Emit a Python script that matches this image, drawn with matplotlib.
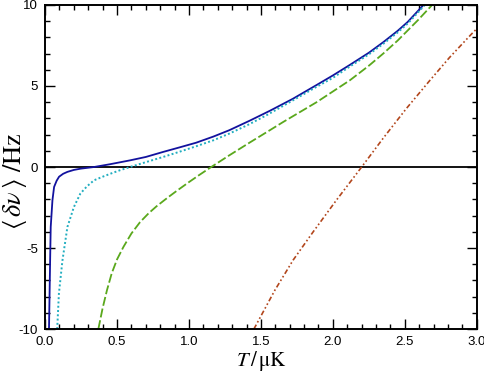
import matplotlib
matplotlib.use('Agg')
import matplotlib.pyplot as plt
from matplotlib.ticker import MultipleLocator

# values (T in uK, shift in Hz)
t_blue = [0.027, 0.035, 0.039, 0.051, 0.0625, 0.08, 0.097, 0.125, 0.155, 0.2, 0.248, 0.34,
          0.45, 0.59, 0.7, 0.82, 0.93, 1.05, 1.17, 1.28, 1.42, 1.56, 1.72, 1.887, 2.0,
          2.118, 2.25, 2.35, 2.45, 2.52, 2.63]
y_blue = [-10.0, -5.7, -3.7, -2.05, -1.23, -0.85, -0.6, -0.42, -0.3, -0.18, -0.1, 0.0,
          0.17, 0.41, 0.62, 0.93, 1.2, 1.5, 1.88, 2.27, 2.85, 3.46, 4.2, 5.06, 5.65,
          6.3, 7.05, 7.7, 8.4, 8.95, 10.0]

t_cyan = [0.084, 0.096, 0.12, 0.155, 0.2, 0.245, 0.29, 0.34, 0.40, 0.455, 0.52, 0.59,
          0.7, 0.82, 0.93, 1.05, 1.17, 1.28, 1.41, 1.54, 1.72, 1.887, 2.0, 2.118, 2.25,
          2.35, 2.45, 2.52, 2.64]
y_cyan = [-10.0, -7.8, -5.8, -3.7, -2.47, -1.64, -1.2, -0.82, -0.6, -0.41, -0.2, 0.0,
          0.3, 0.62, 0.93, 1.28, 1.65, 2.06, 2.6, 3.2, 4.1, 4.95, 5.5, 6.2, 6.95,
          7.6, 8.3, 8.85, 10.0]

t_green = [0.37, 0.40, 0.43, 0.463, 0.50, 0.545, 0.60, 0.66, 0.72, 0.775, 0.85, 0.915,
           1.0, 1.07, 1.146, 1.28, 1.424, 1.56, 1.655, 1.887, 2.118, 2.25, 2.35, 2.45,
           2.59, 2.69]
y_green = [-10.0, -8.7, -7.6, -6.56, -5.7, -4.92, -4.1, -3.4, -2.85, -2.42, -1.9, -1.47,
           -0.93, -0.5, -0.05, 0.72, 1.52, 2.26, 2.78, 4.0, 5.35, 6.25, 7.0, 7.8,
           9.05, 10.0]

t_red = [1.451, 1.597, 1.724, 1.863, 2.025, 2.2, 2.35, 2.51, 2.67, 2.81, 2.963, 3.0]
y_red = [-10.0, -7.6, -5.74, -4.0, -2.04, 0.0, 1.78, 3.6, 5.3, 6.75, 8.2, 8.53]

plt.rcParams['mathtext.fontset'] = 'stix'
plt.rcParams['font.family'] = 'Liberation Sans'
plt.rcParams['axes.unicode_minus'] = False

fig = plt.figure(figsize=(4.85, 3.8), dpi=100)
ax = fig.add_axes([0.093, 0.134, 0.890, 0.853])

ax.axhline(0, color='black', lw=1.3, zorder=1)
ax.plot(t_blue, y_blue, color='#12129e', lw=1.3, ls='-')
ax.plot(t_cyan, y_cyan, color='#22aec0', lw=1.4, ls=(0, (1, 1.2)))
ax.plot(t_green, y_green, color='#5aa81c', lw=1.3, ls=(0, (5, 1.6)))
ax.plot(t_red, y_red, color='#b2461c', lw=1.2, ls=(0, (3, 1.5, 1, 1.5, 1, 1.5)))

ax.set_xlim(0, 3.0)
ax.set_ylim(-10, 10)
ax.xaxis.set_major_locator(MultipleLocator(0.5))
ax.xaxis.set_minor_locator(MultipleLocator(0.1))
ax.yaxis.set_major_locator(MultipleLocator(5))
ax.yaxis.set_minor_locator(MultipleLocator(1))
ax.set_xticklabels([f'{v:.1f}' for v in ax.get_xticks()])
ax.tick_params(which='both', direction='in', top=True, right=True, width=1.0, labelsize=9.5)
ax.tick_params(which='major', length=7, pad=5)
ax.tick_params(which='minor', length=3.8)
for s in ax.spines.values():
    s.set_linewidth(1.4)

ax.set_xlabel(r'$T\,/\,\mathrm{\mu K}$', fontsize=15, labelpad=1)
ax.set_ylabel(r'$\langle\,\delta\nu\,\rangle\ /\mathrm{Hz}$', fontsize=19)
ax.yaxis.set_label_coords(-0.038, 0.455)

fig.savefig('out.png', dpi=100)
